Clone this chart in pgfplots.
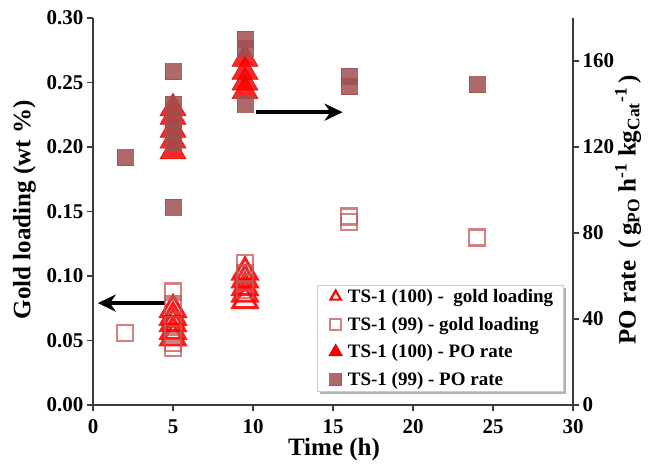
\documentclass[border=0pt]{standalone}
\usepackage{fontspec}
\setmainfont{Liberation Serif}
\usepackage{pgfplots}
\pgfplotsset{compat=1.18}
\usetikzlibrary{arrows.meta,shadows}

\definecolor{rateSq}{RGB}{160,80,80}
\definecolor{goldSq}{RGB}{195,85,85}
\definecolor{tri}{RGB}{255,0,0}
\definecolor{triEdge}{RGB}{200,0,0}
\definecolor{axcol}{RGB}{60,60,60}

\pgfplotsset{
  common/.style={
    scale only axis, width=480pt, height=387pt,
    xmin=0, xmax=30,
    tick align=outside, major tick length=6pt,
    axis line style={line width=1.3pt, axcol},
    every tick/.style={line width=1.3pt, axcol},
    tick label style={font=\bfseries\fontsize{21}{24}\selectfont},
    /pgf/number format/assume math mode=true,
    label style={font=\bfseries\fontsize{25}{28}\selectfont},
    clip=false,
  }
}

\begin{document}
\begin{tikzpicture}
% left axis: gold loading
\begin{axis}[common,
  axis x line*=bottom, axis y line*=left,
  ymin=0, ymax=0.30,
  ytick={0,0.05,0.10,0.15,0.20,0.25,0.30},
  yticklabel style={/pgf/number format/.cd, fixed, fixed zerofill, precision=2},
  xtick={0,5,10,15,20,25,30},
  xticklabel style={yshift=-5pt},
  xlabel={Time (h)}, ylabel={Gold loading (wt \%)},
  xlabel style={at={(axis description cs:0.502,-0.116)}, anchor=center},
  ylabel style={at={(axis description cs:-0.143,0.504)}, anchor=center},
]
\coordinate (O) at (rel axis cs:0,0);

% TS-1 (100) gold loading
\addplot[only marks, mark=triangle, mark size=14pt,
  mark options={draw=tri, line width=3pt, fill=none, opacity=0.9}]
  coordinates {(5,0.074)(5,0.068)(5,0.063)(5,0.057)(5,0.052)
               (9.5,0.103)(9.5,0.097)(9.5,0.091)(9.5,0.086)(9.5,0.081)};

% TS-1 (99) gold loading
\addplot[only marks, mark=square, mark size=8pt,
  mark options={draw=goldSq, line width=2.5pt, fill=none, opacity=0.75}]
  coordinates {(2,0.056)(5,0.088)(5,0.078)(5,0.062)(5,0.055)(5,0.048)(5,0.044)
               (9.5,0.110)(9.5,0.102)(9.5,0.095)(9.5,0.089)
               (16,0.146)(16,0.142)(24,0.130)};

% arrows pointing to the axis each series belongs to
\draw[line width=3.5pt, -{Stealth[length=18pt,width=17pt]}]
  (axis cs:4.5,0.079) -- (axis cs:0.3,0.079);
\draw[line width=3.5pt, -{Stealth[length=18pt,width=17pt]}]
  (axis cs:10.2,0.227) -- (axis cs:15.6,0.227);
\end{axis}

% right axis: PO rate
\begin{axis}[common,
  axis y line*=right, hide x axis,
  ymin=0, ymax=180, ytick={0,40,80,120,160},
  ylabel={PO rate\ \ (\,g\textsubscript{PO} h\textsuperscript{-1} kg\textsubscript{Cat}\textsuperscript{-1}\,)},
  ylabel style={at={(axis description cs:1.115,0.504)}, anchor=center},
  legend image code/.code={\path (0pt,-6pt) (20pt,6pt);
                           \draw[#1] plot coordinates {(11pt,0pt)};},
  legend style={at={(axis description cs:0.467,0.31)}, anchor=north west,
    draw=black!20, line width=0.5pt, fill=white,
    drop shadow={shadow xshift=3pt, shadow yshift=-3pt, opacity=0.5, fill=black!60},
    inner xsep=7pt, inner ysep=2pt, row sep=9pt,
    nodes={inner ysep=2pt, inner xsep=3pt},
    font=\bfseries\fontsize{19}{22}\selectfont},
  legend cell align=left,
]
\addlegendimage{only marks, mark=triangle, mark size=6pt,
  mark options={draw=tri, line width=2.2pt, fill=none}}
\addlegendentry{TS-1 (100) -\ \ gold loading}
\addlegendimage{only marks, mark=square, mark size=5.5pt,
  mark options={draw=goldSq, line width=1.8pt, fill=none, opacity=0.75}}
\addlegendentry{TS-1 (99) - gold loading}
\addlegendimage{only marks, mark=triangle*, mark size=8pt,
  mark options={draw=triEdge, fill=tri, line width=0.5pt}}
\addlegendentry{TS-1 (100) - PO rate}
\addlegendimage{only marks, mark=square*, mark size=6pt,
  mark options={draw=rateSq, fill=rateSq, line width=0pt, opacity=0.85}}
\addlegendentry{TS-1 (99) - PO rate}

% TS-1 (100) PO rate
\addplot[forget plot, only marks, mark=triangle*, mark size=15pt,
  mark options={draw=triEdge, fill=tri, line width=0.6pt, opacity=0.85}]
  coordinates {(5,138)(5,134)(5,128)(5,123)(5,118)
               (9.5,161)(9.5,155)(9.5,150)(9.5,146)};

% TS-1 (99) PO rate
\addplot[forget plot, only marks, mark=square*, mark size=8pt,
  mark options={draw=rateSq, fill=rateSq, line width=0pt, opacity=0.85}]
  coordinates {(2,115)(5,155)(5,140)(5,133)(5,127)(5,122)(5,92)
               (9.5,170)(9.5,166)(9.5,140)
               (16,153)(16,148)(24,149)};
\end{axis}

\pgfresetboundingbox
\path[use as bounding box] ([shift={(-93pt,-59pt)}]O) rectangle ([shift={(562pt,405pt)}]O);
\end{tikzpicture}
\end{document}
